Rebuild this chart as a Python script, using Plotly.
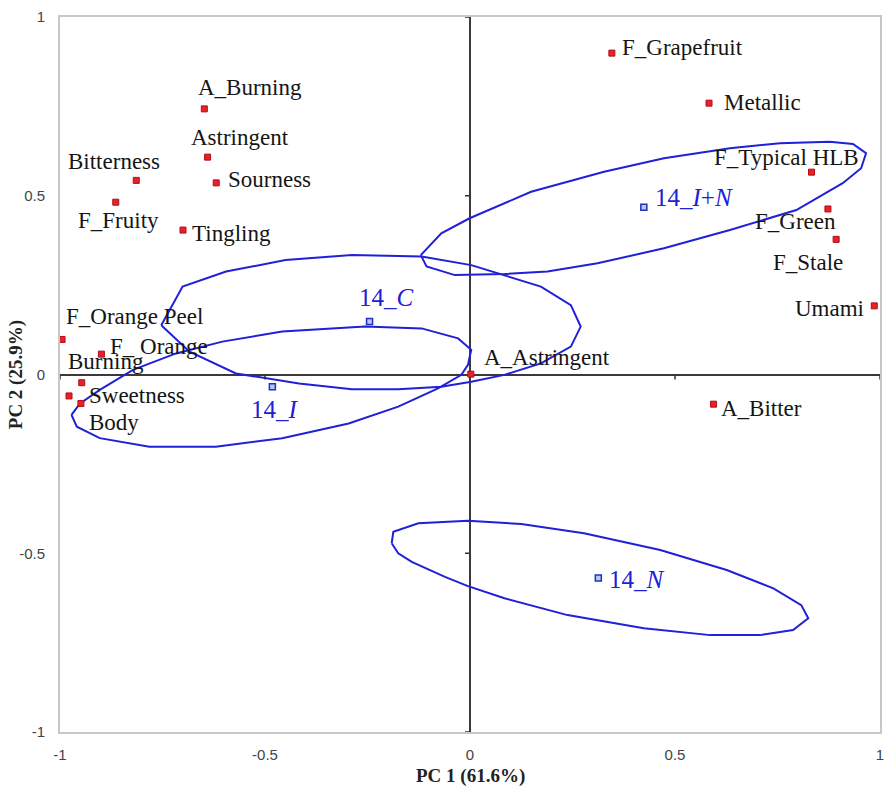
import plotly.graph_objects as go

# ---------------- data ----------------
attr_names = ["F_Grapefruit", "Metallic", "F_Typical HLB", "F_Green", "F_Stale", "Umami",
              "A_Bitter", "A_Astringent", "A_Burning", "Astringent", "Bitterness", "Sourness",
              "F_Fruity", "Tingling", "F_Orange Peel", "F_ Orange", "Burning", "Sweetness", "Body"]
attr_pc1 = [0.346, 0.583, 0.833, 0.873, 0.893, 0.986,
            0.594, 0.002, -0.648, -0.640, -0.814, -0.619,
            -0.864, -0.700, -0.995, -0.899, -0.947, -0.978, -0.949]
attr_pc2 = [0.899, 0.759, 0.566, 0.463, 0.378, 0.192,
            -0.083, 0.001, 0.743, 0.608, 0.543, 0.536,
            0.482, 0.404, 0.098, 0.057, -0.023, -0.060, -0.081]

sample_names = ["14_<i>I</i>+<i>N</i>", "14_<i>C</i>", "14_<i>I</i>", "14_<i>N</i>"]
sample_pc1 = [0.424, -0.245, -0.482, 0.313]
sample_pc2 = [0.468, 0.148, -0.034, -0.569]

# confidence ellipses
ell_IN_x = [-0.120, -0.070, -0.001, 0.149, 0.327, 0.473, 0.634, 0.756, 0.877, 0.934, 0.966, 0.954,
            0.909, 0.796, 0.634, 0.473, 0.311, 0.189, 0.084, -0.037, -0.106, -0.120]
ell_IN_y = [0.334, 0.395, 0.437, 0.511, 0.567, 0.605, 0.633, 0.647, 0.651, 0.645, 0.619, 0.577,
            0.535, 0.460, 0.404, 0.353, 0.311, 0.288, 0.281, 0.278, 0.302, 0.334]
ell_C_x = [-0.753, -0.701, -0.595, -0.450, -0.288, -0.118, 0.003, 0.084, 0.173, 0.246, 0.270, 0.246,
           0.173, 0.084, 0.003, -0.070, -0.175, -0.288, -0.417, -0.571, -0.684, -0.753]
ell_C_y = [0.138, 0.246, 0.288, 0.320, 0.334, 0.330, 0.306, 0.278, 0.246, 0.194, 0.134, 0.078,
           0.031, -0.001, -0.020, -0.034, -0.041, -0.041, -0.025, 0.003, 0.064, 0.138]
ell_I_x = [-0.972, -0.951, -0.903, -0.822, -0.717, -0.604, -0.458, -0.256, -0.118, -0.029, 0.003, -0.005,
           -0.021, -0.078, -0.175, -0.296, -0.458, -0.620, -0.782, -0.903, -0.959, -0.972]
ell_I_y = [-0.113, -0.081, -0.043, 0.013, 0.059, 0.092, 0.120, 0.134, 0.129, 0.101, 0.069, 0.027,
           -0.001, -0.039, -0.090, -0.137, -0.178, -0.202, -0.202, -0.178, -0.146, -0.113]
ell_N_x = [-0.191, -0.187, -0.126, -0.005, 0.125, 0.278, 0.464, 0.626, 0.740, 0.808, 0.825, 0.788,
           0.707, 0.586, 0.424, 0.238, 0.084, -0.005, -0.061, -0.142, -0.175, -0.191]
ell_N_y = [-0.472, -0.440, -0.416, -0.409, -0.418, -0.444, -0.491, -0.547, -0.598, -0.645, -0.682, -0.715,
           -0.729, -0.729, -0.710, -0.673, -0.626, -0.592, -0.566, -0.524, -0.500, -0.472]

tick_vals = [-1, -0.5, 0, 0.5, 1]
tick_text = ["-1", "-0.5", "0", "0.5", "1"]

# ---------------- label placement (layout only) ----------------
attr_lab = {  # name: (xanchor, xshift, yshift)
    "F_Grapefruit": ("left", 8, 6),
    "Metallic": ("left", 13, 1),
    "F_Typical HLB": ("center", -25, 15),
    "F_Green": ("center", -32, -13),
    "F_Stale": ("center", -28, -23),
    "Umami": ("right", -8, -3),
    "A_Bitter": ("left", 5, -4),
    "A_Astringent": ("left", 11, 17),
    "A_Burning": ("left", -8, 21),
    "Astringent": ("left", -19, 20),
    "Bitterness": ("center", -22, 19),
    "Sourness": ("left", 10, 3),
    "F_Fruity": ("center", 3, -18),
    "Tingling": ("left", 7, -3),
    "F_Orange Peel": ("left", 2, 23),
    "F_ Orange": ("left", 7, 8),
    "Burning": ("left", -16, 21),
    "Sweetness": ("left", 18, 0),
    "Body": ("left", 6, -19),
}
sample_lab = [("left", 9, 10), ("center", 17, 24), ("center", 3, -23), ("left", 9, -2)]

SERIF = "Liberation Serif, Times New Roman, serif"
BLUE = "#2020d8"

fig = go.Figure()

for ex, ey in [(ell_IN_x, ell_IN_y), (ell_C_x, ell_C_y), (ell_I_x, ell_I_y), (ell_N_x, ell_N_y)]:
    fig.add_trace(go.Scatter(x=ex, y=ey, mode="lines", line=dict(color=BLUE, width=2),
                             hoverinfo="skip", showlegend=False))

fig.add_trace(go.Scatter(x=attr_pc1, y=attr_pc2, mode="markers", showlegend=False,
                         marker=dict(symbol="square", size=6, color="#e8202a",
                                     line=dict(color="#b01018", width=1)),
                         text=attr_names))
fig.add_trace(go.Scatter(x=sample_pc1, y=sample_pc2, mode="markers", showlegend=False,
                         marker=dict(symbol="square", size=6, color="#b8c8f0",
                                     line=dict(color="#2030c0", width=1.5)),
                         text=sample_names))

annotations = []
for n, x, y in zip(attr_names, attr_pc1, attr_pc2):
    xa, xs, ys = attr_lab[n]
    annotations.append(dict(x=x, y=y, text=n, showarrow=False, xanchor=xa, yanchor="middle",
                            xshift=xs, yshift=ys, font=dict(family=SERIF, size=23, color="#151515")))
for n, x, y, (xa, xs, ys) in zip(sample_names, sample_pc1, sample_pc2, sample_lab):
    annotations.append(dict(x=x, y=y, text=n, showarrow=False, xanchor=xa, yanchor="middle",
                            xshift=xs, yshift=ys, font=dict(family=SERIF, size=25, color=BLUE)))

# axis titles
annotations.append(dict(xref="paper", yref="paper", x=0.5, y=-0.062, text="<b>PC 1 (61.6%)</b>",
                        showarrow=False, xanchor="center", yanchor="middle",
                        font=dict(family=SERIF, size=19, color="#222")))
annotations.append(dict(xref="paper", yref="paper", x=-0.054, y=0.5, text="<b>PC 2 (25.9%)</b>",
                        showarrow=False, xanchor="center", yanchor="middle", textangle=-90,
                        font=dict(family=SERIF, size=19, color="#222")))

# small tick marks on the zero axes
shapes = []
for t in tick_vals:
    if t != 0:
        shapes.append(dict(type="line", xref="x", yref="y", xsizemode="pixel", xanchor=0,
                           x0=0, x1=-5, y0=t, y1=t, line=dict(color="#303030", width=1.5)))
        shapes.append(dict(type="line", xref="x", yref="y", ysizemode="pixel", yanchor=0,
                           y0=0, y1=-5, x0=t, x1=t, line=dict(color="#303030", width=1.5)))

TICKFONT = dict(family="Liberation Sans Narrow, Arial Narrow, Arial", size=15, color="#444")
fig.update_layout(
    width=886, height=790,
    margin=dict(l=60, r=2, t=17, b=58),
    paper_bgcolor="white", plot_bgcolor="white",
    annotations=annotations, shapes=shapes,
    xaxis=dict(range=[-1, 1], tickvals=tick_vals, ticktext=tick_text, showgrid=False,
               zeroline=True, zerolinecolor="#3a3a3a", zerolinewidth=2,
               showline=True, mirror=True, linecolor="#c8c8c8", linewidth=2,
               ticks="", ticklabelstandoff=8, ticklabeloverflow="allow",
               tickfont=TICKFONT),
    yaxis=dict(range=[-1, 1], tickvals=tick_vals, ticktext=tick_text, showgrid=False,
               zeroline=True, zerolinecolor="#3a3a3a", zerolinewidth=2,
               showline=True, mirror=True, linecolor="#c8c8c8", linewidth=2,
               ticks="", ticklabelstandoff=10, ticklabeloverflow="allow",
               tickfont=TICKFONT),
)

fig.write_html("out.html")
